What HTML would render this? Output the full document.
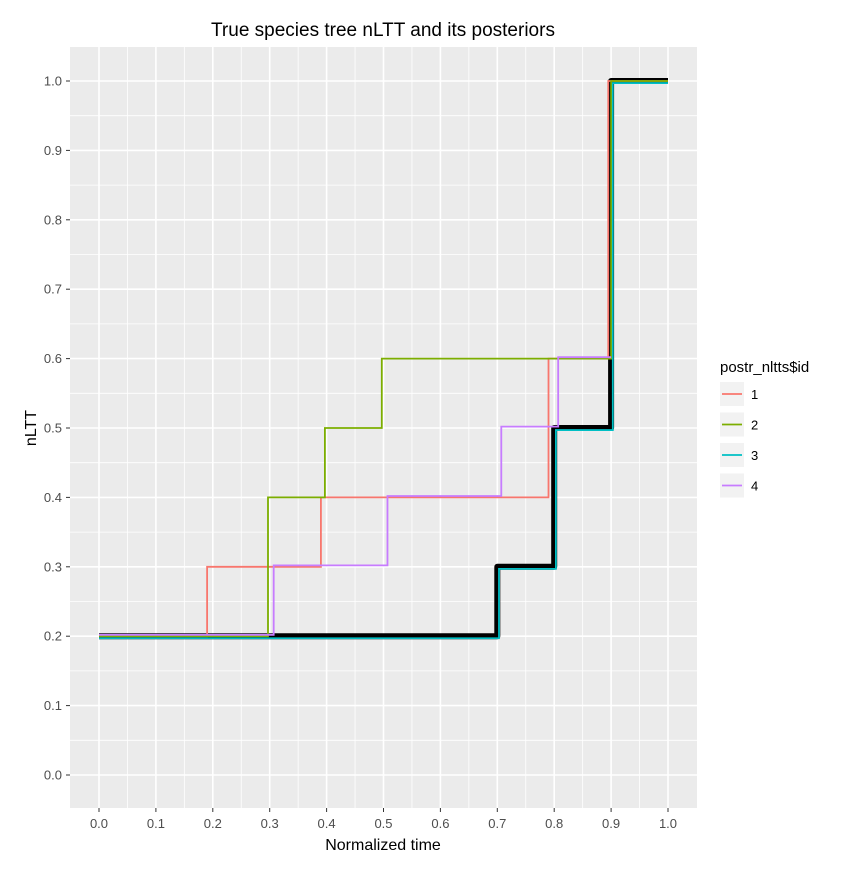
<!DOCTYPE html>
<html><head><meta charset="utf-8"><style>
body{margin:0;background:#fff;font-family:"Liberation Sans",sans-serif}
</style></head><body>
<svg width="852" height="874" xmlns="http://www.w3.org/2000/svg" font-family="Liberation Sans, sans-serif">
<text x="383" y="36" text-anchor="middle" font-size="19">True species tree nLTT and its posteriors</text>
<rect x="70" y="47" width="627" height="761" fill="#ebebeb"/>
<g id="grid"></g>
<g id="axes"></g>
<g id="series"></g>
<text x="383" y="850" text-anchor="middle" font-size="16">Normalized time</text>
<text x="36" y="428" text-anchor="middle" font-size="16" transform="rotate(-90 36 428)">nLTT</text>
<g>
<text x="720" y="372" font-size="15">postr_nltts$id</text>
<g id="legend"></g>
</g>
</svg>
<script>
const xTicks=[0,0.1,0.2,0.3,0.4,0.5,0.6,0.7,0.8,0.9,1.0];
const yTicks=[0,0.1,0.2,0.3,0.4,0.5,0.6,0.7,0.8,0.9,1.0];
const ids=["1","2","3","4"];
const colors=["#f8766d","#7cae00","#00bfc4","#c77cff"];
const t1=[0,0.19,0.39,0.79,0.895,1];  const v1=[0.2,0.3,0.4,0.6,1.0];
const t2=[0,0.297,0.397,0.497,0.9,1]; const v2=[0.2,0.4,0.5,0.6,1.0];
const t3=[0,0.703,0.803,0.903,1];     const v3=[0.197,0.297,0.497,0.997];
const t4=[0,0.307,0.507,0.707,0.807,0.9]; const v4=[0.202,0.302,0.402,0.502,0.602];
const tTrue=[0,0.7,0.8,0.9,1]; const vTrue=[0.2,0.3,0.5,1.0];
const NS="http://www.w3.org/2000/svg";
const X=v=>99+v*569, Y=v=>775-v*694;
function mk(tag,attrs,parent){const e=document.createElementNS(NS,tag);for(const k in attrs)e.setAttribute(k,attrs[k]);parent.appendChild(e);return e;}
const grid=document.getElementById('grid'),axes=document.getElementById('axes'),ser=document.getElementById('series'),leg=document.getElementById('legend');
for(let i=0;i<xTicks.length;i++){
 if(i<xTicks.length-1){const m=mk('line',{x1:X(xTicks[i]+0.05),x2:X(xTicks[i]+0.05),y1:47,y2:808,stroke:'#fff','stroke-width':0.8},grid);}
 const g=mk('line',{x1:X(xTicks[i]),x2:X(xTicks[i]),y1:47,y2:808,stroke:'#fff','stroke-width':1.6},grid);
 
 mk('line',{x1:X(xTicks[i]),x2:X(xTicks[i]),y1:808,y2:812,stroke:'#333'},axes);
 const t=mk('text',{x:X(xTicks[i]),y:828,'text-anchor':'middle','font-size':13,fill:'#4d4d4d'},axes);t.textContent=xTicks[i].toFixed(1);
 
}
for(let i=0;i<yTicks.length;i++){
 if(i<yTicks.length-1){const m=mk('line',{x1:70,x2:697,y1:Y(yTicks[i]+0.05),y2:Y(yTicks[i]+0.05),stroke:'#fff','stroke-width':0.8},grid);}
 const g=mk('line',{x1:70,x2:697,y1:Y(yTicks[i]),y2:Y(yTicks[i]),stroke:'#fff','stroke-width':1.6},grid);
 
 mk('line',{x1:66,x2:70,y1:Y(yTicks[i]),y2:Y(yTicks[i]),stroke:'#333'},axes);
 const t=mk('text',{x:62,y:Y(yTicks[i])+4.5,'text-anchor':'end','font-size':13,fill:'#4d4d4d'},axes);t.textContent=yTicks[i].toFixed(1);
 
}
function stepPath(t,v){let d='M'+X(t[0])+','+Y(v[0]);for(let i=1;i<t.length;i++){d+=' H'+X(t[i]);if(i<v.length)d+=' V'+Y(v[i]);}return d;}
const tr=mk('path',{d:stepPath(tTrue,vTrue),fill:'none',stroke:'#000','stroke-width':6,'stroke-linejoin':'round'},ser);

const T=[t1,t2,t3,t4],V=[v1,v2,v3,v4];
for(let k=0;k<4;k++){
 const p=mk('path',{d:stepPath(T[k],V[k]),fill:'none',stroke:colors[k],'stroke-width':1.8},ser);
 
 const y0=382+k*30.5;
 const r=mk('rect',{x:720,y:y0,width:24,height:24,fill:'#f2f2f2'},leg);
 
 mk('line',{x1:722,x2:742,y1:y0+12,y2:y0+12,stroke:colors[k],'stroke-width':1.8},leg);
 const t=mk('text',{x:751,y:y0+17,'font-size':13},leg);t.textContent=ids[k];
 
}
</script>
</body></html>
